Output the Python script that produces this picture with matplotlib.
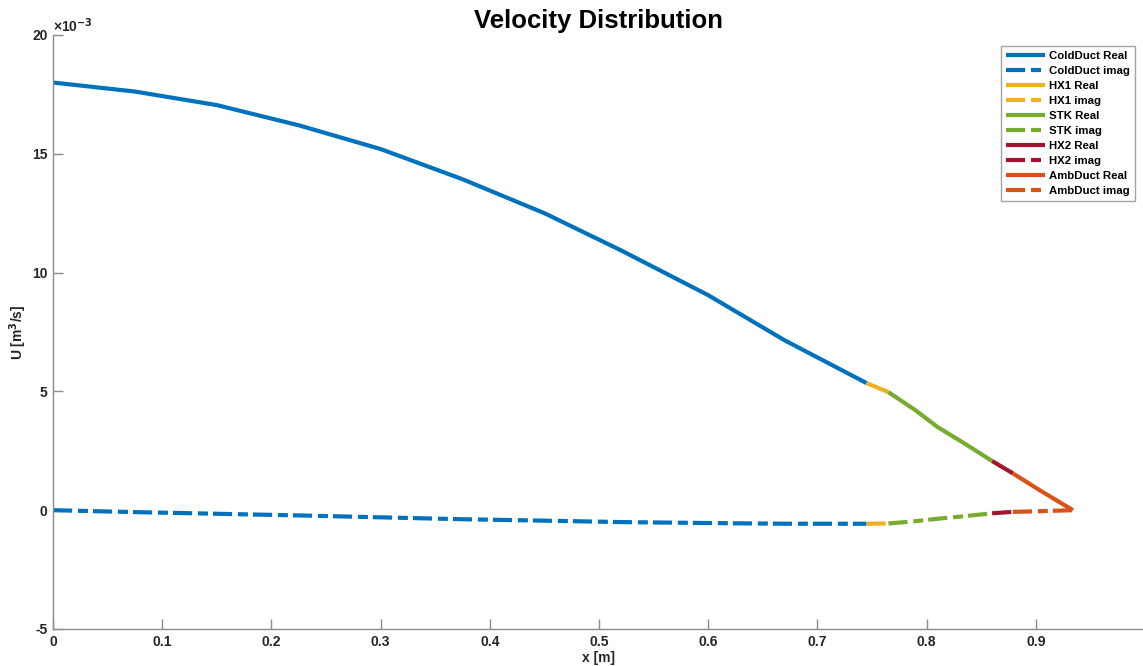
import matplotlib
matplotlib.use("Agg")
import matplotlib.pyplot as plt

plt.rcParams['font.family'] = ['Liberation Sans', 'DejaVu Sans']
plt.rcParams['axes.unicode_minus'] = False

# Data (U in units of 1e-3 m^3/s)
cold_x = [0.0, 0.075, 0.15, 0.225, 0.30, 0.375, 0.45, 0.52, 0.60, 0.67, 0.745]
cold_re = [18.0, 17.62, 17.05, 16.2, 15.2, 13.93, 12.5, 10.94, 9.05, 7.15, 5.35]
cold_im = [0.0, -0.08, -0.15, -0.22, -0.30, -0.38, -0.44, -0.50, -0.54, -0.57, -0.57]

hx1_x = [0.745, 0.765]
hx1_re = [5.35, 4.97]
hx1_im = [-0.57, -0.56]

stk_x = [0.765, 0.79, 0.81, 0.835, 0.86]
stk_re = [4.97, 4.2, 3.5, 2.8, 2.07]
stk_im = [-0.56, -0.46, -0.36, -0.25, -0.13]

hx2_x = [0.86, 0.879]
hx2_re = [2.07, 1.55]
hx2_im = [-0.13, -0.07]

amb_x = [0.879, 0.905, 0.934]
amb_re = [1.55, 0.8, 0.0]
amb_im = [-0.07, -0.04, 0.0]

series = [
    ("ColdDuct", cold_x, cold_re, cold_im, "#0072BD"),
    ("HX1", hx1_x, hx1_re, hx1_im, "#EDB120"),
    ("STK", stk_x, stk_re, stk_im, "#77AC30"),
    ("HX2", hx2_x, hx2_re, hx2_im, "#A2142F"),
    ("AmbDuct", amb_x, amb_re, amb_im, "#D95319"),
]

fig = plt.figure(figsize=(11.43, 6.66), dpi=100)
ax = fig.add_axes([53/1143, 37/666, 1092/1143, 594/666])

lw = 3.0
dash = (0, (4.6, 1.4, 2.4, 1.2))
for name, x, re, im, c in series:
    ax.plot(x, re, color=c, lw=lw, solid_capstyle='butt', label=f"{name} Real")
    ax.plot(x, im, color=c, lw=lw, linestyle=dash, dash_capstyle='butt', label=f"{name} imag")

ax.set_xlim(0, 1)
ax.set_ylim(-5, 20)
ax.set_xticks([0, 0.1, 0.2, 0.3, 0.4, 0.5, 0.6, 0.7, 0.8, 0.9, 1.0])
ax.set_xticklabels(["0", "0.1", "0.2", "0.3", "0.4", "0.5", "0.6", "0.7", "0.8", "0.9", ""])
ax.set_yticks([-5, 0, 5, 10, 15, 20])

axis_col = "#8c8c8c"
for s in ["top", "right"]:
    ax.spines[s].set_visible(False)
for s in ["left", "bottom"]:
    ax.spines[s].set_color(axis_col)
    ax.spines[s].set_linewidth(1.0)
ax.tick_params(direction='in', length=7, width=1.0, color=axis_col,
               labelsize=10, labelcolor="#262626", pad=4)
for lab in ax.get_xticklabels() + ax.get_yticklabels():
    lab.set_fontweight('bold')

ax.set_xlabel("x [m]", fontsize=10, fontweight='bold', color="#262626", labelpad=2)
ax.set_ylabel("U [m$^\\mathbf{3}$/s]", fontsize=10, fontweight='bold', color="#262626")
ax.yaxis.set_label_coords(-0.022, 0.5)
ax.set_title("Velocity Distribution", fontsize=18.5, fontweight='bold', pad=5)
ax.text(0.0, 1.0, "×10$^{\\mathbf{-3}}$", transform=ax.transAxes, fontsize=10,
        fontweight='bold', color="#262626", ha='left', va='bottom')

leg = ax.legend(loc='upper right', bbox_to_anchor=(1082/1092, 1 - 11/594),
                frameon=True, fancybox=False, handlelength=3.4,
                handletextpad=0.35, labelspacing=0.44, borderpad=0.45,
                borderaxespad=0.0,
                prop={'weight': 'bold', 'size': 8.2})
leg.get_frame().set_edgecolor("#8c8c8c")
leg.get_frame().set_linewidth(1.0)

fig.savefig("out.png", dpi=100)
